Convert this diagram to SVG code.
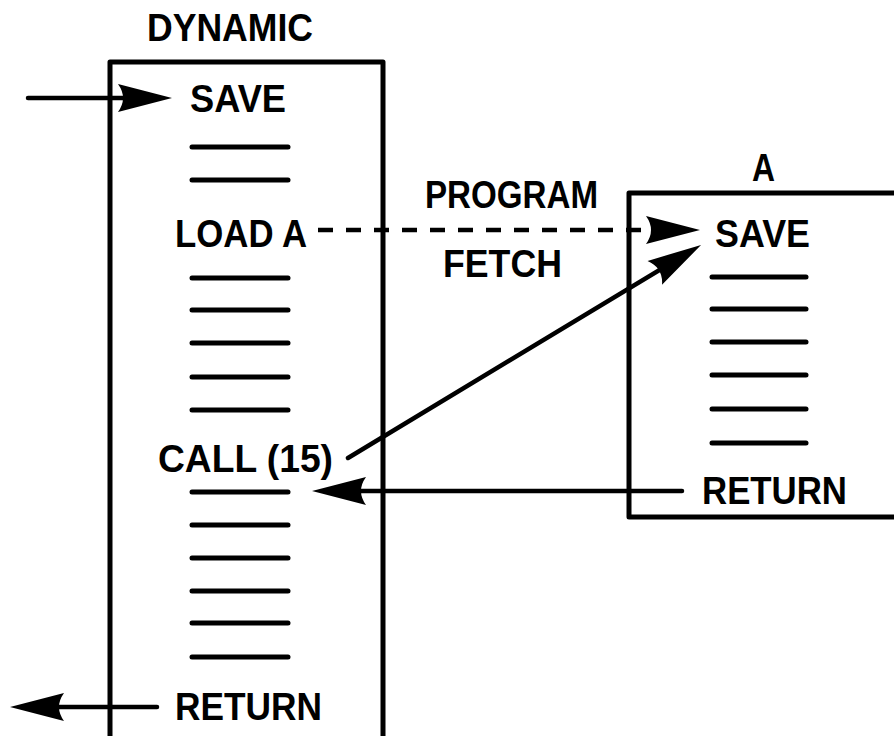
<svg xmlns="http://www.w3.org/2000/svg" width="894" height="736" viewBox="0 0 894 736">
  <style>
    .box { fill: none; stroke: #000; stroke-width: 5; stroke-linejoin: round; }
    .rule { stroke: #000; stroke-width: 5; stroke-linecap: round; }
    .wire { fill: none; stroke: #000; stroke-width: 4.5; stroke-linecap: round; }
    .dash { stroke-dasharray: 15 13; stroke-linecap: butt; }
    text { font-family: "Liberation Sans", Arial, sans-serif; font-weight: bold; font-size: 39px; fill: #000; }
  </style>
  <defs>
    <!-- dart-shaped arrowhead; tip sits 20 units past the line end -->
    <marker id="head" viewBox="-76 -17 80 34" refX="-20" refY="0" markerWidth="80" markerHeight="34" markerUnits="userSpaceOnUse" orient="auto">
      <path d="M0,0 L-54,-14 Q-44,0 -54,14 Z" fill="#000"/>
    </marker>
  </defs>

  <rect width="894" height="736" fill="#fff"/>

  <!-- DYNAMIC program module (open at the bottom) -->
  <g id="dynamic">
    <path class="box" d="M110,745 V62 H383 V745"/>
    <text x="147" y="41" textLength="166" lengthAdjust="spacingAndGlyphs">DYNAMIC</text>
    <text x="190" y="112" textLength="96" lengthAdjust="spacingAndGlyphs">SAVE</text>
    <line class="rule" x1="192" y1="147" x2="288" y2="147"/>
    <line class="rule" x1="192" y1="180" x2="288" y2="180"/>
    <text x="175" y="247" textLength="132" lengthAdjust="spacingAndGlyphs">LOAD A</text>
    <line class="rule" x1="192" y1="278" x2="288" y2="278"/>
    <line class="rule" x1="192" y1="310" x2="288" y2="310"/>
    <line class="rule" x1="192" y1="343" x2="288" y2="343"/>
    <line class="rule" x1="192" y1="377" x2="288" y2="377"/>
    <line class="rule" x1="192" y1="410" x2="288" y2="410"/>
    <text x="158" y="472" textLength="175" lengthAdjust="spacingAndGlyphs">CALL (15)</text>
    <line class="rule" x1="192" y1="492" x2="288" y2="492"/>
    <line class="rule" x1="192" y1="525" x2="288" y2="525"/>
    <line class="rule" x1="192" y1="558" x2="288" y2="558"/>
    <line class="rule" x1="192" y1="591" x2="288" y2="591"/>
    <line class="rule" x1="192" y1="623" x2="288" y2="623"/>
    <line class="rule" x1="192" y1="657" x2="288" y2="657"/>
    <text x="175" y="720" textLength="147" lengthAdjust="spacingAndGlyphs">RETURN</text>
  </g>

  <!-- module A (runs off the right edge) -->
  <g id="moduleA">
    <path class="box" d="M900,193 H629 V517 H900"/>
    <text x="752" y="181" textLength="23" lengthAdjust="spacingAndGlyphs">A</text>
    <text x="715" y="247" textLength="95" lengthAdjust="spacingAndGlyphs">SAVE</text>
    <line class="rule" x1="712" y1="277" x2="806" y2="277"/>
    <line class="rule" x1="712" y1="309" x2="806" y2="309"/>
    <line class="rule" x1="712" y1="342" x2="806" y2="342"/>
    <line class="rule" x1="712" y1="375" x2="806" y2="375"/>
    <line class="rule" x1="712" y1="409" x2="806" y2="409"/>
    <line class="rule" x1="712" y1="443" x2="806" y2="443"/>
    <text x="702" y="504" textLength="145" lengthAdjust="spacingAndGlyphs">RETURN</text>
  </g>

  <!-- label on the fetch connector -->
  <g id="fetch-label">
    <text x="425" y="208" textLength="173" lengthAdjust="spacingAndGlyphs">PROGRAM</text>
    <text x="443" y="277" textLength="119" lengthAdjust="spacingAndGlyphs">FETCH</text>
  </g>

  <g id="connectors">
    <!-- entry into DYNAMIC -->
    <line class="wire" x1="28" y1="98" x2="152" y2="98" marker-end="url(#head)"/>
    <!-- LOAD A fetches module A -->
    <line class="wire dash" x1="318" y1="230" x2="680" y2="230" marker-end="url(#head)"/>
    <!-- CALL transfers to A's entry -->
    <line class="wire" x1="348" y1="458" x2="683.9" y2="255.3" marker-end="url(#head)"/>
    <!-- A returns to the caller -->
    <line class="wire" x1="682" y1="491" x2="332" y2="491" marker-end="url(#head)"/>
    <!-- exit from DYNAMIC -->
    <line class="wire" x1="157" y1="707" x2="30" y2="707" marker-end="url(#head)"/>
  </g>
</svg>
